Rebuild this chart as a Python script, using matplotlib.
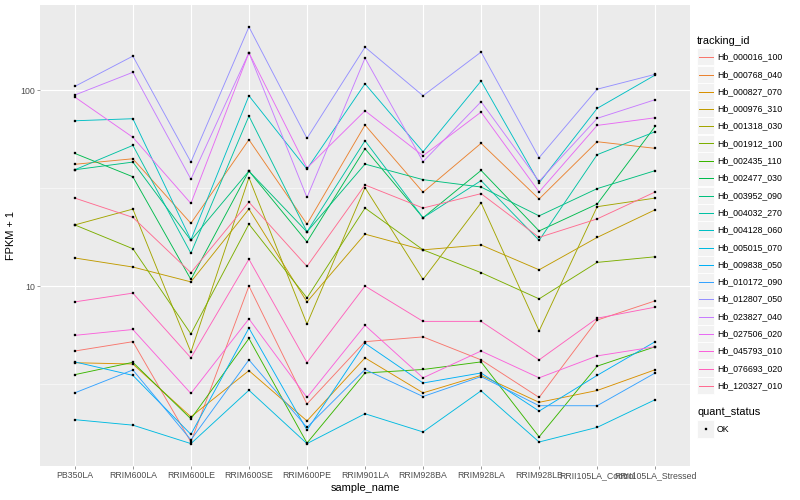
import numpy as np
import matplotlib
matplotlib.use('Agg')
from matplotlib import pyplot as plt
from matplotlib.lines import Line2D
from matplotlib.patches import Rectangle

plt.rcParams['font.family'] = ['Liberation Sans', 'DejaVu Sans']

samples = ['PB350LA', 'RRIM600LA', 'RRIM600LE', 'RRIM600SE', 'RRIM600PE', 'RRIM901LA',
           'RRIM928BA', 'RRIM928LA', 'RRIM928LB', 'RRII105LA_Control', 'RRII105LA_Stressed']

tracking_ids = ['Hb_000016_100', 'Hb_000768_040', 'Hb_000827_070', 'Hb_000976_310',
                'Hb_001318_030', 'Hb_001912_100', 'Hb_002435_110', 'Hb_002477_030',
                'Hb_003952_090', 'Hb_004032_270', 'Hb_004128_060', 'Hb_005015_070',
                'Hb_009838_050', 'Hb_010172_090', 'Hb_012807_050', 'Hb_023827_040',
                'Hb_027506_020', 'Hb_045793_010', 'Hb_076693_020', 'Hb_120327_010']

# ggplot hue palette, 20 levels
cores = ['#F8766D', '#EA8331', '#D89000', '#C09B00', '#A3A500', '#7CAE00', '#39B600',
         '#00BB4E', '#00BF7D', '#00C1A3', '#00BFC4', '#00BAE0', '#00B0F6', '#35A2FF',
         '#9590FF', '#C77CFF', '#E76BF3', '#FA62DB', '#FF62BC', '#FF6C91']

# FPKM + 1 per sample
hb_000016_100 = [4.66, 5.2, 1.6, 10.0, 2.5, 5.2, 5.5, 4.2, 2.7, 6.7, 8.4]
hb_000768_040 = [41.8, 44.6, 20.9, 55.8, 20.7, 66.3, 30.1, 53.5, 27.8, 54.5, 50.4]
hb_000827_070 = [4.06, 4.0, 2.15, 3.7, 2.05, 4.3, 2.85, 3.5, 2.55, 2.93, 3.74]
hb_000976_310 = [13.9, 12.5, 10.5, 24.7, 8.3, 18.4, 15.3, 16.2, 12.1, 17.7, 24.5]
hb_001318_030 = [20.5, 24.7, 4.6, 35.7, 6.4, 31.8, 10.8, 26.6, 5.9, 25.4, 28.1]
hb_001912_100 = [20.5, 15.5, 5.7, 20.7, 8.7, 25.0, 15.3, 11.7, 8.6, 13.2, 14.1]
hb_002435_110 = [3.53, 4.08, 2.1, 5.4, 1.58, 3.6, 3.75, 4.1, 1.7, 3.9, 4.9]
hb_002477_030 = [47.5, 36.1, 10.8, 38.6, 16.8, 50.2, 22.3, 38.9, 19.1, 26.2, 65.3]
hb_003952_090 = [39.2, 42.9, 17.1, 38.6, 18.9, 41.9, 34.9, 32.0, 22.8, 31.4, 38.8]
hb_004032_270 = [39.2, 52.2, 14.7, 73.7, 18.9, 55.1, 22.3, 34.5, 17.1, 46.8, 61.3]
hb_004128_060 = [69.7, 71.4, 17.2, 93.5, 39.5, 107.7, 48.4, 111.2, 33.6, 80.6, 119.3]
hb_005015_070 = [2.08, 1.95, 1.57, 2.94, 1.57, 2.23, 1.8, 2.92, 1.6, 1.9, 2.63]
hb_009838_050 = [4.1, 3.5, 1.75, 6.1, 1.84, 5.1, 3.2, 3.6, 2.3, 3.5, 5.2]
hb_010172_090 = [2.85, 3.73, 1.64, 4.2, 1.9, 3.75, 2.73, 3.45, 2.45, 2.45, 3.6]
hb_012807_050 = [104.4, 149, 42.9, 210, 56.7, 165.6, 93.5, 156.3, 45.2, 101, 120.3]
hb_023827_040 = [94.3, 123.2, 35.1, 155, 28.3, 145.6, 43.1, 87.2, 34.2, 71.7, 89.3]
hb_027506_020 = [92.1, 57.4, 26.4, 155, 40.0, 78.4, 46.2, 77.2, 30.2, 66.0, 72.2]
hb_045793_010 = [5.6, 6.0, 2.83, 6.8, 2.7, 6.3, 3.4, 4.66, 3.4, 4.4, 4.9]
hb_076693_020 = [8.3, 9.2, 4.3, 13.7, 4.07, 10.0, 6.6, 6.6, 4.2, 6.85, 7.8]
hb_120327_010 = [28.1, 22.4, 11.7, 26.8, 12.6, 32.8, 25.0, 29.6, 17.7, 22.0, 30.2]

series = [hb_000016_100, hb_000768_040, hb_000827_070, hb_000976_310, hb_001318_030,
          hb_001912_100, hb_002435_110, hb_002477_030, hb_003952_090, hb_004032_270,
          hb_004128_060, hb_005015_070, hb_009838_050, hb_010172_090, hb_012807_050,
          hb_023827_040, hb_027506_020, hb_045793_010, hb_076693_020, hb_120327_010]

W, H = 800, 500
fig = plt.figure(figsize=(W / 72, H / 72), dpi=72)
ax = fig.add_axes([40 / W, 34 / H, 650 / W, 461 / H])
ax.set_facecolor('#EBEBEB')
for s in ax.spines.values():
    s.set_visible(False)

x = np.arange(len(samples))
for vals, cor in zip(series, cores):
    ax.plot(x, vals, color=cor, lw=0.9, zorder=3)
for vals in series:
    ax.plot(x, vals, ls='none', marker='s', ms=2.8, mew=0.3, color='black', zorder=4)

ax.set_yscale('log')
ax.set_ylim(10 ** 0.0816, 10 ** 2.434)
ax.set_xlim(-0.6, len(samples) - 0.4)
ax.set_yticks([10, 100])
ax.set_yticklabels(['10', '100'])
ax.set_yticks([10 ** 0.5, 10 ** 1.5], minor=True)
ax.yaxis.set_minor_formatter(plt.NullFormatter())
ax.set_xticks(x)
ax.set_xticklabels(samples)

ax.grid(True, which='major', color='white', lw=1.1, zorder=0)
ax.grid(True, which='minor', axis='y', color='white', lw=0.55, zorder=0)
ax.set_axisbelow(True)
ax.tick_params(which='major', length=2.75, width=0.5, color='#333333',
               labelsize=8.8, labelcolor='#4D4D4D', pad=2)
ax.tick_params(which='minor', length=0)

ax.set_xlabel('sample_name', fontsize=11, labelpad=3)
ax.set_ylabel('FPKM + 1', fontsize=11, labelpad=4)

# legend drawn by hand, ggplot style
def px(xp, yp):
    return xp / W, 1 - yp / H

fig.text(*px(697, 41), 'tracking_id', fontsize=11, va='center', ha='left')
for i, (nome, cor) in enumerate(zip(tracking_ids, cores)):
    yc = int(56.7 + i * 17.3) + 0.5
    x0, y0 = px(697, yc + 8.6)
    fig.add_artist(Rectangle((x0, y0), 17.28 / W, 17.28 / H, transform=fig.transFigure,
                             facecolor='#F2F2F2', edgecolor='white', lw=0.8, zorder=1))
    xa, ya = px(698.7, yc)
    xb, _ = px(712.6, yc)
    fig.add_artist(Line2D([xa, xb], [ya, ya], transform=fig.transFigure, color=cor,
                          lw=1.0, zorder=2))
    fig.text(*px(717, yc), nome, fontsize=8.8, va='center', ha='left')

fig.text(*px(697, 412), 'quant_status', fontsize=11, va='center', ha='left')
x0, y0 = px(697, 429 + 8.6)
fig.add_artist(Rectangle((x0, y0), 17.28 / W, 17.28 / H, transform=fig.transFigure,
                         facecolor='#F2F2F2', edgecolor='white', lw=0.8, zorder=1))
xm, ym = px(705.6, 429)
fig.add_artist(Line2D([xm], [ym], transform=fig.transFigure, ls='none', marker='s',
                      ms=2.8, mew=0.3, color='black', zorder=2))
fig.text(*px(717, 429), 'OK', fontsize=8.8, va='center', ha='left')

plt.savefig('out.png', dpi=72)
